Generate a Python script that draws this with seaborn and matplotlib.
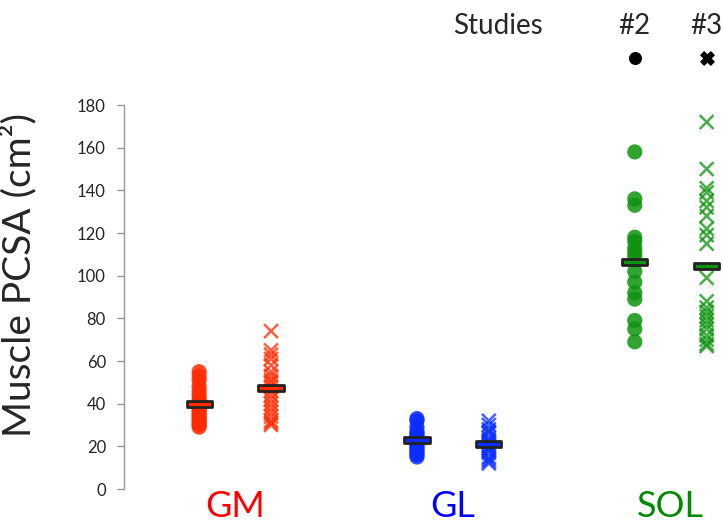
import numpy as np
import pandas as pd
import matplotlib
matplotlib.use("Agg")
import matplotlib.pyplot as plt
from matplotlib.path import Path
import seaborn as sns

# ---- data ----
muscles = ["GM", "GL", "SOL"]
studies = ["#2", "#3"]
gm_study2 = [55, 53, 51, 48, 46, 44, 42, 41, 40, 39, 38, 37, 36, 35, 34, 33, 32, 31, 30, 29]
gm_study3 = [74, 65, 63, 61, 58, 55, 53, 51, 50, 48, 46, 44, 42, 40, 38, 36, 34, 32, 31, 30]
gl_study2 = [33, 32, 29, 27, 26, 25, 24, 23, 22, 21, 20, 19, 18, 17, 16, 15]
gl_study3 = [32, 30, 28, 27, 26, 24, 23, 22, 21, 20, 19, 18, 17, 15, 14, 13, 12]
sol_study2 = [158, 136, 133, 118, 116, 113, 111, 109, 102, 97, 92, 89, 79, 75, 69]
sol_study3 = [172, 150, 141, 139, 135, 132, 128, 122, 119, 115, 99, 88, 85, 83, 81,
              79, 77, 75, 72, 70, 68, 67]
yticks = [0, 20, 40, 60, 80, 100, 120, 140, 160, 180]

series = {("GM", "#2"): gm_study2, ("GM", "#3"): gm_study3,
          ("GL", "#2"): gl_study2, ("GL", "#3"): gl_study3,
          ("SOL", "#2"): sol_study2, ("SOL", "#3"): sol_study3}

rows = []
for (m, s), vals in series.items():
    for v in vals:
        rows.append({"muscle": m, "study": s, "value": v})
df = pd.DataFrame(rows)

offset = {"#2": -0.165, "#3": 0.165}
df["xpos"] = df["muscle"].map({m: i for i, m in enumerate(muscles)}) + df["study"].map(offset)

means = df.groupby(["muscle", "study"], sort=False)["value"].mean().reset_index()
means["xpos"] = means["muscle"].map({m: i for i, m in enumerate(muscles)}) + means["study"].map(offset)

palette = {"GM": "#ff2a00", "GL": "#0a2cff", "SOL": "#0d930d"}
label_colors = {"GM": "#ff0000", "GL": "#0000ff", "SOL": "#008a00"}

# ---- figure ----
sns.set_style("white")
plt.rcParams["font.family"] = ["Lato", "DejaVu Sans"]

fig = plt.figure(figsize=(7.23, 5.23), dpi=100)
ax = fig.add_axes([124 / 723, (523 - 489) / 523, 599 / 723, 384 / 523])

sns.scatterplot(data=df[df["study"] == "#2"], x="xpos", y="value", hue="muscle",
                palette=palette, marker="o", s=120, alpha=0.85, linewidth=0,
                legend=False, ax=ax, zorder=2)
sns.scatterplot(data=df[df["study"] == "#3"], x="xpos", y="value", hue="muscle",
                palette=palette, marker="x", s=100, alpha=0.75, linewidth=1.8,
                legend=False, ax=ax, zorder=2)

bar_marker = Path([(-1, -0.24), (1, -0.24), (1, 0.24), (-1, 0.24), (-1, -0.24)],
                  [Path.MOVETO, Path.LINETO, Path.LINETO, Path.LINETO, Path.CLOSEPOLY])
sns.scatterplot(data=means, x="xpos", y="value", hue="muscle", palette=palette,
                marker=bar_marker, s=330, edgecolor="#222222", linewidth=2.0,
                legend=False, ax=ax, zorder=3)

ax.set_xlim(-0.51, 2.24)
ax.set_ylim(0, 180)
ax.set_yticks(yticks)
ax.set_yticklabels([str(t) for t in yticks], fontsize=12)
ax.set_xticks(range(len(muscles)))
ax.set_xticklabels(muscles, fontsize=26)
for lab, m in zip(ax.get_xticklabels(), muscles):
    lab.set_color(label_colors[m])
ax.tick_params(axis="x", length=0, pad=1)
ax.tick_params(axis="y", direction="out", length=5, width=1, color="#999999", left=True, pad=8)

for side in ["top", "right", "bottom"]:
    ax.spines[side].set_visible(False)
ax.spines["left"].set_color("#999999")
ax.spines["left"].set_linewidth(1)

ax.set_xlabel("")
ax.set_ylabel("Muscle PCSA (cm²)", fontsize=28)
ax.yaxis.set_label_coords(-0.145, 0.557)

# study legend above the plot
for label, xv in [("Studies", 1.205), ("#2", 2 + offset["#2"]), ("#3", 2 + offset["#3"])]:
    ax.text(xv, 217, label, fontsize=20, ha="center", va="center", clip_on=False)
ax.scatter([2 + offset["#2"]], [202], marker="o", s=70, color="black", clip_on=False)
ax.scatter([2 + offset["#3"]], [202], marker="X", s=90, color="black", clip_on=False)

fig.savefig("out.png", dpi=100)
